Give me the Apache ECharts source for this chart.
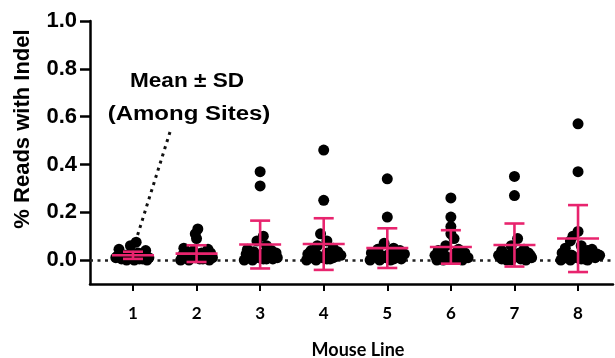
<!DOCTYPE html>
<html><head><meta charset="utf-8">
<script src="https://cdn.jsdelivr.net/npm/echarts@6/dist/echarts.min.js"></script>
<style>html,body{margin:0;padding:0;background:#fff}#c{width:615px;height:358px}</style>
</head><body><div id="c"></div>
<script>
// ---- data ----
const categories = [1, 2, 3, 4, 5, 6, 7, 8];
const yTicks = [0, 0.2, 0.4, 0.6, 0.8, 1.0];
const means = [0.02, 0.027, 0.065, 0.067, 0.05, 0.055, 0.063, 0.09];
const sds   = [0.015, 0.035, 0.1, 0.108, 0.083, 0.07, 0.09, 0.14];

const values1 = [0.075, 0.06, 0.045, 0.04, 0.025, 0.02, 0.015, 0.01, 0.01, 0.005, 0.005, 0, 0, 0.01, 0.02, 0, 0.005, 0.01, 0.015, 0.02, 0.03];
const jitter1 = [0.05, -0.04, -0.22, 0.2, 0.12, -0.12, -0.25, 0.25, -0.05, 0.15, -0.18, 0.02, 0.22, -0.27, 0.05, -0.1, 0.1, -0.02, 0.18, -0.08, 0.08];
const values2 = [0.13, 0.11, 0.09, 0.05, 0.045, 0.04, 0.03, 0.02, 0.015, 0.01, 0.01, 0.005, 0, 0, 0.01, 0, 0.005, 0.01, 0.015, 0.02, 0.03];
const jitter2 = [0.02, -0.02, 0.0, -0.2, 0.18, -0.05, 0.22, -0.22, 0.1, -0.15, 0.25, 0.05, -0.25, 0.2, -0.08, -0.12, 0.1, -0.02, 0.16, -0.1, 0.08];
const values3 = [0.37, 0.31, 0.10, 0.08, 0.06, 0.045, 0.04, 0.035, 0.03, 0.025, 0.02, 0.015, 0.01, 0.01, 0.005, 0.005, 0, 0.02, 0, 0.005, 0.01, 0.015, 0.02, 0.03];
const jitter3 = [0.0, 0.0, 0.05, -0.05, 0.1, -0.2, 0.18, -0.1, 0.25, -0.22, 0.12, -0.05, 0.27, -0.18, 0.05, 0.2, -0.25, 0.0, -0.12, 0.1, -0.02, 0.18, -0.1, 0.08];
const values4 = [0.46, 0.25, 0.11, 0.08, 0.06, 0.05, 0.04, 0.035, 0.03, 0.025, 0.02, 0.015, 0.01, 0.01, 0.005, 0, 0.02, 0, 0.005, 0.01, 0.015, 0.02, 0.03];
const jitter4 = [0.0, 0.0, -0.05, 0.05, -0.1, 0.15, -0.2, 0.22, 0.05, -0.25, 0.27, -0.12, 0.15, -0.2, 0.05, -0.27, 0.2, -0.12, 0.1, -0.02, 0.18, -0.1, 0.08];
const values5 = [0.34, 0.18, 0.07, 0.05, 0.045, 0.04, 0.03, 0.025, 0.02, 0.015, 0.01, 0.01, 0.005, 0, 0, 0.02, 0, 0.005, 0.01, 0.015, 0.02, 0.03];
const jitter5 = [0.0, 0.0, -0.05, 0.1, -0.15, 0.2, -0.25, 0.27, 0.0, -0.2, 0.15, -0.08, 0.22, -0.27, 0.05, -0.12, -0.12, 0.1, -0.02, 0.18, -0.1, 0.08];
const values6 = [0.26, 0.18, 0.14, 0.11, 0.09, 0.06, 0.045, 0.04, 0.03, 0.02, 0.015, 0.01, 0.01, 0.005, 0, 0, 0.005, 0, 0.005, 0.01, 0.015, 0.02, 0.03];
const jitter6 = [0.0, 0.0, 0.0, 0.0, 0.05, -0.08, 0.12, -0.2, 0.22, -0.25, 0.1, -0.12, 0.27, 0.0, -0.22, 0.18, -0.05, -0.12, 0.1, -0.02, 0.18, -0.1, 0.08];
const values7 = [0.35, 0.27, 0.09, 0.06, 0.045, 0.04, 0.03, 0.025, 0.02, 0.015, 0.01, 0.01, 0.005, 0, 0, 0.02, 0, 0.005, 0.01, 0.015, 0.02, 0.03];
const jitter7 = [0.0, 0.0, 0.05, -0.05, 0.15, -0.2, 0.22, 0.0, -0.25, 0.1, 0.27, -0.12, -0.2, 0.18, -0.05, 0.25, -0.12, 0.1, -0.02, 0.18, -0.1, 0.08];
const values8 = [0.57, 0.37, 0.12, 0.10, 0.08, 0.06, 0.05, 0.045, 0.04, 0.03, 0.025, 0.02, 0.015, 0.01, 0.01, 0.005, 0, 0, 0.02, 0, 0.005, 0.01, 0.015, 0.02, 0.03];
const jitter8 = [0.0, 0.0, 0.0, -0.08, -0.12, 0.05, -0.2, 0.22, 0.15, -0.25, 0.3, -0.1, 0.2, -0.2, 0.27, 0.05, -0.27, 0.15, 0.34, -0.12, 0.1, -0.02, 0.18, -0.1, 0.08];

const allValues = [values1, values2, values3, values4, values5, values6, values7, values8];
const allJitter = [jitter1, jitter2, jitter3, jitter4, jitter5, jitter6, jitter7, jitter8];

// ---- build ----
const points = [];
allValues.forEach((vals, i) => {
  vals.forEach((v, j) => points.push([categories[i] + allJitter[i][j], v]));
});
const bars = categories.map((c, i) => [c, means[i], sds[i]]);

const PINK = '#E8246E';
const chart = echarts.init(document.getElementById('c'), null, {renderer: 'canvas'});
chart.setOption({
  animation: false,
  backgroundColor: '#fff',
  grid: {left: 90, top: 21, right: 2, bottom: 74},
  xAxis: {
    type: 'value', min: 0.324, max: 8.55,
    splitLine: {show: false},
    axisLine: {show: true, onZero: false, lineStyle: {color: '#000', width: 2.5}},
    axisTick: {show: true, customValues: categories, length: 7, lineStyle: {color: '#000', width: 2}},
    axisLabel: {customValues: categories, margin: 21, color: '#000',
      fontFamily: 'Lato', fontWeight: 'bold', fontSize: 17}
  },
  yAxis: {
    type: 'value', min: -0.1, max: 1.0,
    splitLine: {show: false},
    axisLine: {show: true, onZero: false, lineStyle: {color: '#000', width: 2.5}},
    axisTick: {show: true, customValues: yTicks, length: 10, lineStyle: {color: '#000', width: 2.5}},
    axisLabel: {customValues: yTicks, margin: 13, color: '#000',
      fontFamily: 'Liberation Sans', fontWeight: 'bold', fontSize: 22,
      formatter: v => v.toFixed(1)}
  },
  series: [
    {
      type: 'scatter', data: points, symbol: 'circle', symbolSize: 11,
      itemStyle: {color: '#000', opacity: 1}, z: 2,
      markLine: {
        silent: true, symbol: ['none', 'none'], label: {show: false},
        lineStyle: {color: '#222', width: 2.5, type: [3, 4.5]},
        data: [{yAxis: 0}], z: 1
      }
    },
    {
      type: 'custom', data: bars, z: 5,
      renderItem: function (params, api) {
        const x = api.value(0), m = api.value(1), s = api.value(2);
        const c = api.coord([x, m]);
        const t = api.coord([x, m + s]);
        const b = api.coord([x, m - s]);
        const st = {stroke: PINK, lineWidth: 2.6};
        return {type: 'group', children: [
          {type: 'line', shape: {x1: t[0], y1: t[1], x2: b[0], y2: b[1]}, style: st},
          {type: 'line', shape: {x1: t[0] - 10, y1: t[1], x2: t[0] + 10, y2: t[1]}, style: st},
          {type: 'line', shape: {x1: b[0] - 10, y1: b[1], x2: b[0] + 10, y2: b[1]}, style: st},
          {type: 'line', shape: {x1: c[0] - 21, y1: c[1], x2: c[0] + 21, y2: c[1]}, style: st}
        ]};
      }
    }
  ],
  graphic: [
    {type: 'text', x: 23, y: 129, rotation: Math.PI / 2,
      style: {text: '% Reads with Indel', fill: '#000', font: 'bold 22px "Liberation Sans"',
        textAlign: 'center', textVerticalAlign: 'middle'}},
    {type: 'text', x: 187, y: 81, scaleX: 1.13,
      style: {text: 'Mean ± SD', fill: '#000', font: 'bold 20px "Liberation Sans"',
        textAlign: 'center', textVerticalAlign: 'middle'}},
    {type: 'text', x: 189, y: 114, scaleX: 1.2,
      style: {text: '(Among Sites)', fill: '#000', font: 'bold 20px "Liberation Sans"',
        textAlign: 'center', textVerticalAlign: 'middle'}},
    {type: 'line', shape: {x1: 170, y1: 132, x2: 137, y2: 237},
      style: {stroke: '#111', lineWidth: 3, lineDash: [3, 4.5]}},
    {type: 'text', x: 358, y: 350,
      style: {text: 'Mouse Line', fill: '#000', font: 'bold 18px Lato',
        textAlign: 'center', textVerticalAlign: 'middle'}}
  ]
});
</script>
</body></html>
